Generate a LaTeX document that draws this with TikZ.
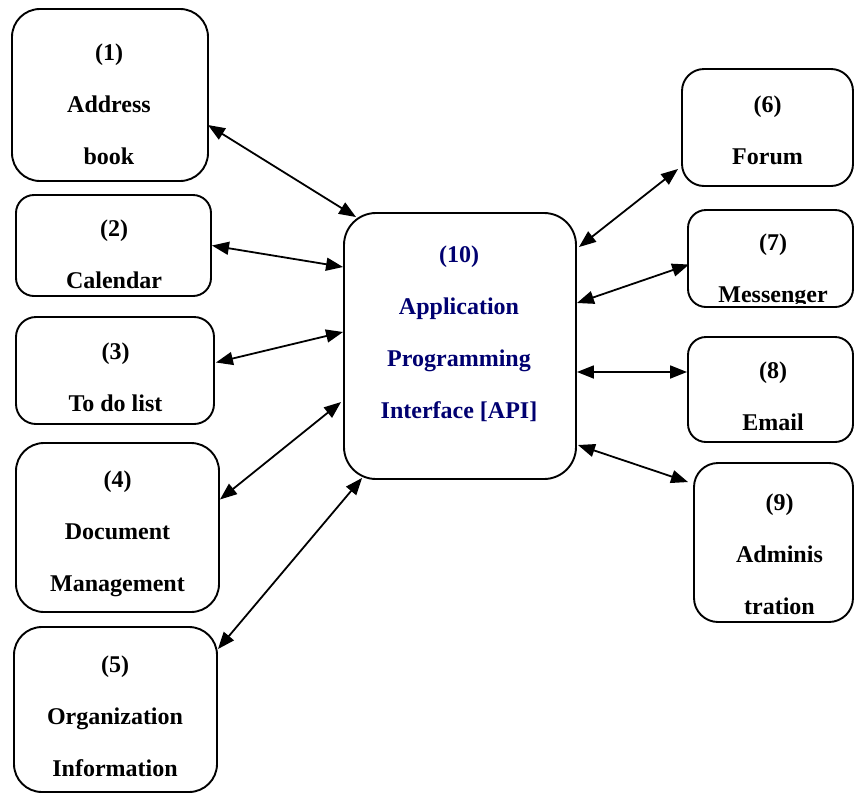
\documentclass[tikz,border=0pt]{standalone}
\usepackage{fontspec}
\setmainfont{Liberation Serif}
\usetikzlibrary{calc,arrows.meta}
\definecolor{apiblue}{RGB}{0,0,112}

\begin{document}
\begin{tikzpicture}[x=1pt,y=-1pt,
  box/.style={draw,line width=1.9pt,rounded corners=20pt,inner sep=0pt},
  lbl/.style={anchor=north,align=center,inner sep=0pt,font=\fontsize{24}{52}\selectfont\bfseries},
  link/.style={line width=1.8pt,{Triangle[length=17pt,width=13pt]}-{Triangle[length=17pt,width=13pt]}}]
  \useasboundingbox (0,0) rectangle (854,793);

  \node[box,minimum width=196pt,minimum height=172pt,rounded corners=28pt] (b1) at (110,95) {};
  \node[lbl] (t1) at (109,43.5) {(1)\\Address\\book};

  \node[box,minimum width=195pt,minimum height=101pt,rounded corners=18pt] (b2) at (113.5,245.5) {};
  \node[lbl] (t2) at (114,219.5) {(2)\\Calendar};

  \node[box,minimum width=198pt,minimum height=107pt] (b3) at (115,370.5) {};
  \node[lbl] (t3) at (115.5,342.5) {(3)\\To do list};

  \node[box,minimum width=203pt,minimum height=169pt,rounded corners=28pt] (b4) at (117.5,527.5) {};
  \node[lbl] (t4) at (117.5,470.5) {(4)\\Document\\Management};

  \node[box,minimum width=203pt,minimum height=165pt,rounded corners=28pt] (b5) at (115.5,709.5) {};
  \node[lbl] (t5) at (115,655.5) {(5)\\Organization\\Information};

  \node[box,minimum width=232pt,minimum height=266pt,rounded corners=32pt] (api) at (460,346) {};
  \node[lbl,text=apiblue] (tapi) at (459,245.5) {(10)\\Application\\Programming\\Interface [API]};

  \node[box,minimum width=171pt,minimum height=117pt,rounded corners=22pt] (b6) at (767.5,127.5) {};
  \node[lbl] (t6) at (767.5,95.5) {(6)\\Forum};

  \node[box,minimum width=165pt,minimum height=97pt,rounded corners=18pt] (b7) at (770.5,258.5) {};
  \begin{scope}
    \clip (b7.north west) rectangle ([yshift=4pt]b7.south east);
    \node[lbl] (t7) at (773,233.5) {(7)\\Messenger};
  \end{scope}

  \node[box,minimum width=165pt,minimum height=105pt,rounded corners=18pt] (b8) at (770.5,389.5) {};
  \node[lbl] (t8) at (773,361.5) {(8)\\Email};

  \node[box,minimum width=159pt,minimum height=159pt,rounded corners=24pt] (b9) at (773.5,542.5) {};
  \node[lbl] (t9) at (779.5,493.5) {(9)\\Adminis\\tration};

  \draw[link] ($(b1.east)+(-1,30)$) -- ($(api.north west)+(13,5)$);
  \draw[link] (b2.east) -- ($(api.west)+(0,-79)$);
  \draw[link] ($(b3.east)+(1,-8)$) -- ($(api.west)+(0,-14)$);
  \draw[link] ($(b4.east)+(0,-28)$) -- ($(api.west)+(-2,56)$);
  \draw[link] ($(b5.north east)+(0,23)$) -- ($(api.south west)+(19,-2)$);
  \draw[link] ($(api.north east)+(2,35)$) -- ($(b6.south west)+(-3,-18)$);
  \draw[link] ($(api.east)+(0,-43)$) -- ($(b7.west)+(2,6)$);
  \draw[link] ($(api.east)+(0,26)$) -- ($(b8.west)+(0,-17.5)$);
  \draw[link] ($(api.east)+(1,99)$) -- ($(b9.north west)+(-5,20)$);
\end{tikzpicture}
\end{document}
